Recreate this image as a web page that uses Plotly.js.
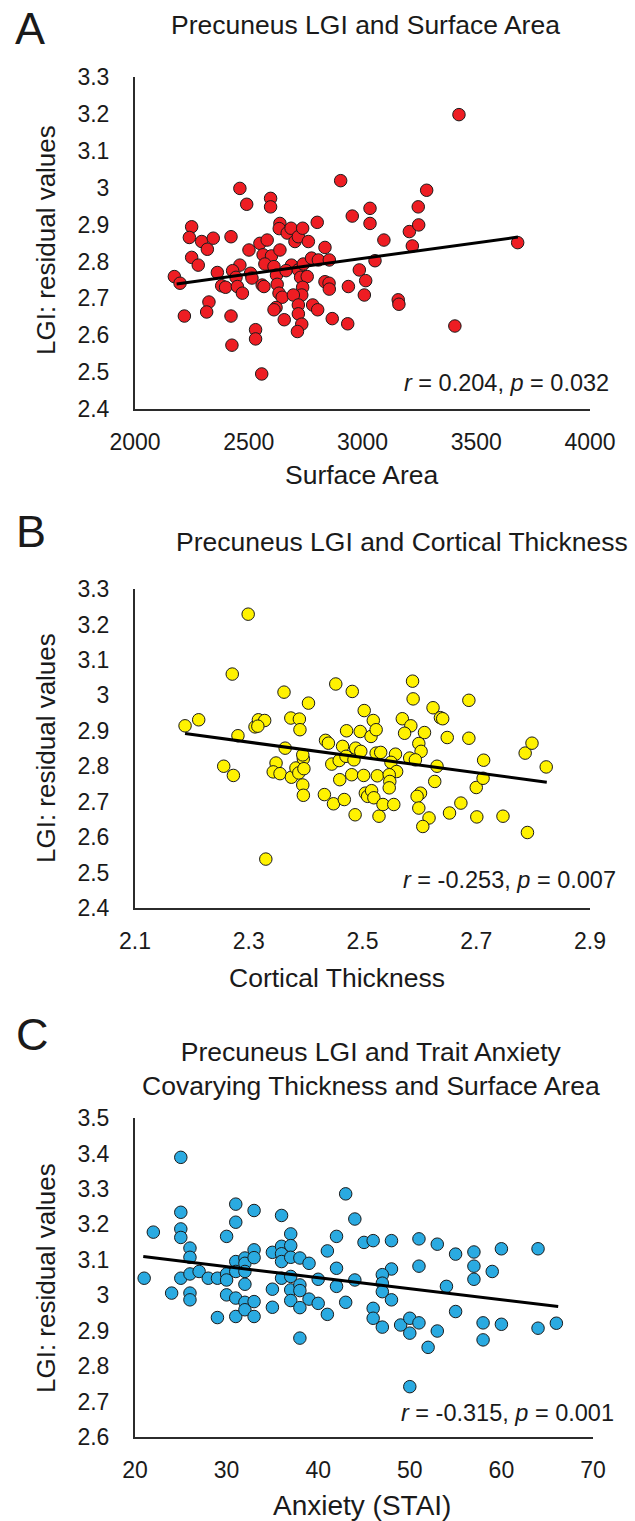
<!DOCTYPE html>
<html>
<head>
<meta charset="utf-8">
<script src="https://cdn.plot.ly/plotly-3.0.1.min.js"></script>
<style>
  html, body { margin: 0; padding: 0; background: #ffffff; }
  #chart { width: 635px; height: 1521px; }
</style>
</head>
<body>
<div id="chart"></div>
<script>
// ---------------- Data ----------------
// Panel A: Surface Area vs LGI residual
const surfaceArea = [2173,2198,2249,2239,2293,2344,2318,2249,2278,2217,2325,2315,2362,2381,2398,2422,2422,2426,2461,2491,2501,2461,2429,2444,2450,2472,2508,2514,2530,2530,2557,2549,2581,2563,2600,2571,2559,2567,2596,2596,2637,2634,2637,2611,2622,2625,2633,2647,2620,2611,2656,2669,2686,2703,2718,2737,2762,2688,2664,2718,2740,2728,2757,2737,2733,2696,2718,2718,2733,2714,2781,2803,2801,2776,2806,2835,2854,2835,2853,2854,2867,2904,2935,2938,2955,2986,3014,3008,3033,3033,3055,3094,3206,3247,3245,3282,3219,3157,3160,3424,3406,3682];
const lgiA = [2.759,2.741,2.894,2.865,2.854,2.863,2.833,2.811,2.790,2.652,2.690,2.663,2.770,2.734,2.730,2.867,2.652,2.573,2.998,2.955,2.831,2.790,2.775,2.757,2.732,2.714,2.768,2.755,2.615,2.590,2.495,2.849,2.858,2.818,2.815,2.793,2.736,2.732,2.971,2.948,2.903,2.889,2.831,2.786,2.763,2.738,2.714,2.703,2.675,2.669,2.642,2.877,2.890,2.854,2.867,2.890,2.854,2.790,2.775,2.777,2.793,2.757,2.759,2.730,2.709,2.709,2.682,2.658,2.630,2.610,2.682,2.669,2.906,2.809,2.804,2.838,2.804,2.745,2.741,2.725,2.645,3.019,2.631,2.732,2.923,2.777,2.748,2.709,2.944,2.903,2.802,2.858,2.881,2.899,2.948,2.993,2.842,2.696,2.684,3.198,2.625,2.851];
const fitAx = [2183, 3683];
const fitAy = [2.739, 2.866];

// Panel B: Cortical Thickness vs LGI residual
const thickness = [2.188,2.212,2.281,2.271,2.299,2.256,2.273,2.330,2.311,2.317,2.328,2.316,2.362,2.374,2.389,2.390,2.405,2.364,2.348,2.343,2.355,2.375,2.383,2.388,2.396,2.395,2.397,2.395,2.396,2.435,2.440,2.433,2.449,2.446,2.459,2.460,2.468,2.453,2.482,2.472,2.465,2.471,2.485,2.488,2.497,2.496,2.503,2.519,2.515,2.524,2.481,2.502,2.487,2.505,2.509,2.516,2.524,2.526,2.529,
  2.588,2.589,2.624,2.637,2.641,2.687,2.570,2.585,2.574,2.609,2.649,2.687,2.599,2.603,2.583,2.593,2.558,2.550,2.532,2.560,2.547,2.548,2.547,2.520,2.536,2.555,2.631,2.627,2.602,2.596,2.599,2.617,2.606,2.653,2.673,2.700,2.712,2.713,2.701,2.747,2.786,2.798,2.823,2.790];
const lgiB = [2.914,2.931,2.886,3.060,3.229,2.800,2.774,2.538,2.911,2.931,2.929,2.913,3.009,2.936,2.933,2.903,2.978,2.851,2.809,2.784,2.779,2.769,2.795,2.781,2.821,2.832,2.793,2.747,2.718,2.873,2.865,2.720,2.694,2.806,2.816,2.762,2.706,3.032,3.011,2.900,2.856,2.828,2.818,2.851,2.842,2.898,2.957,2.929,2.884,2.903,2.776,2.774,2.663,2.724,2.715,2.731,2.837,2.773,2.659,
  3.040,2.990,2.965,2.937,2.934,2.986,2.934,2.914,2.893,2.895,2.881,2.879,2.864,2.842,2.823,2.818,2.834,2.811,2.839,2.785,2.776,2.757,2.739,2.711,2.692,2.692,2.800,2.757,2.724,2.715,2.682,2.654,2.630,2.668,2.696,2.740,2.766,2.817,2.657,2.659,2.837,2.865,2.798,2.613];
const fitBx = [2.188, 2.824];
const fitBy = [2.892, 2.755];

// Panel C: Anxiety (STAI) vs LGI residual
const anxiety = [21,22,24,25,25,25,25,25,26,26,26,26,26,27,28,29,29,30,30,30,30,31,31,31,31,31,31,32,32,32,32,32,32,33,33,33,33,33,35,35,35,36,36,36,36,36,37,37,37,37,37,37,38,38,38,38,38,39,39,40,40,41,41,42,42,42,43,43,44,44,45,46,46,46,
  48,51,53,55,57,60,64,57,57,59,51,48,47,47,47,48,54,55,47,49,50,50,51,53,52,50,58,58,60,64,66];
const lgiC = [3.048,3.178,3.006,3.389,3.234,3.187,3.163,3.048,3.133,3.107,3.060,3.006,2.987,3.067,3.048,3.048,2.937,3.166,3.060,3.043,3.001,3.257,3.206,3.095,3.067,2.992,2.940,3.105,3.090,3.067,3.031,2.980,2.959,3.239,3.128,3.106,2.982,2.940,3.121,3.017,2.966,3.225,3.138,3.117,3.095,3.048,3.173,3.140,3.107,3.053,3.015,2.985,3.105,3.029,3.013,2.965,2.879,3.090,2.989,3.045,2.977,2.946,3.125,3.166,3.076,3.025,3.286,2.980,3.215,3.043,3.149,3.154,2.963,2.935,
  3.154,3.159,3.144,3.116,3.122,3.131,3.131,3.082,3.045,3.067,3.082,3.074,3.058,3.034,3.010,2.987,3.025,2.954,2.910,2.916,2.935,2.893,2.922,2.899,2.853,2.742,2.922,2.874,2.918,2.907,2.921];
const fitCx = [20.9, 66.2];
const fitCy = [3.109, 2.968];

// Tick labels
const xTicksA = [2000, 2500, 3000, 3500, 4000];
const xTicksB = [2.1, 2.3, 2.5, 2.7, 2.9];
const xTickTextB = ['2.1', '2.3', '2.5', '2.7', '2.9'];
const xTicksC = [20, 30, 40, 50, 60, 70];
const yTicksAB = [2.4, 2.5, 2.6, 2.7, 2.8, 2.9, 3.0, 3.1, 3.2, 3.3];
const yTextAB = ['2.4', '2.5', '2.6', '2.7', '2.8', '2.9', '3', '3.1', '3.2', '3.3'];
const yTicksC = [2.6, 2.7, 2.8, 2.9, 3.0, 3.1, 3.2, 3.3, 3.4, 3.5];
const yTextC = ['2.6', '2.7', '2.8', '2.9', '3', '3.1', '3.2', '3.3', '3.4', '3.5'];

const titles = ['Precuneus LGI and Surface Area', 'Precuneus LGI and Cortical Thickness',
  'Precuneus LGI and Trait Anxiety<br>Covarying Thickness and Surface Area'];
const xTitles = ['Surface Area', 'Cortical Thickness', 'Anxiety (STAI)'];
const yTitle = 'LGI: residual values';
const stats = ['<i>r</i> = 0.204, <i>p</i> = 0.032', '<i>r</i> = -0.253, <i>p</i> = 0.007', '<i>r</i> = -0.315, <i>p</i> = 0.001'];
const letters = ['A', 'B', 'C'];

// ---------------- Layout helpers ----------------
const W = 635, H = 1521;
const fx = p => p / W;
const fy = p => 1 - p / H;
const FONT = '"Liberation Sans", Arial, Helvetica, sans-serif';
const TXT = '#1a1a1a';
const AX = '#2b2b2b';

function mk(x, y, color, xa, ya) {
  return { x: x, y: y, type: 'scatter', mode: 'markers', xaxis: xa, yaxis: ya,
    marker: { size: 12.5, color: color, line: { color: '#1a1a1a', width: 1 } }, hoverinfo: 'skip' };
}
function fit(x, y, xa, ya) {
  return { x: x, y: y, type: 'scatter', mode: 'lines', xaxis: xa, yaxis: ya,
    line: { color: '#000000', width: 3 }, hoverinfo: 'skip' };
}

const data = [
  mk(surfaceArea, lgiA, '#EE1D23', 'x', 'y'), fit(fitAx, fitAy, 'x', 'y'),
  mk(thickness, lgiB, '#FFF200', 'x2', 'y2'), fit(fitBx, fitBy, 'x2', 'y2'),
  mk(anxiety, lgiC, '#2AAAE1', 'x3', 'y3'), fit(fitCx, fitCy, 'x3', 'y3')
];

function xax(dom, range, vals, text, anchor) {
  const a = { domain: dom, range: range, tickvals: vals, anchor: anchor, showline: true, linecolor: AX, linewidth: 2,
    showgrid: false, zeroline: false, ticks: '', ticklabelstandoff: 11, tickfont: { family: FONT, size: 23, color: TXT }, fixedrange: true };
  if (text) a.ticktext = text;
  return a;
}
function yax(dom, range, vals, text, anchor) {
  return { domain: dom, range: range, tickvals: vals, ticktext: text, anchor: anchor, showline: true, linecolor: AX, linewidth: 2,
    showgrid: false, zeroline: false, ticks: '', ticklabelstandoff: 19, tickfont: { family: FONT, size: 23, color: TXT }, fixedrange: true };
}

function ann(text, xp, yp, size, opts) {
  return Object.assign({ text: text, xref: 'paper', yref: 'paper', x: fx(xp), y: fy(yp), xanchor: 'center', yanchor: 'middle',
    showarrow: false, font: { family: FONT, size: size, color: TXT } }, opts || {});
}

const layout = {
  width: W, height: H, margin: { l: 0, r: 0, t: 0, b: 0 }, paper_bgcolor: '#ffffff', plot_bgcolor: '#ffffff',
  showlegend: false,
  xaxis: xax([fx(135), fx(590)], [2000, 4000], xTicksA, null, 'y'),
  yaxis: yax([fy(409), fy(77)], [2.4, 3.3], yTicksAB, yTextAB, 'x'),
  xaxis2: xax([fx(135), fx(590)], [2.1, 2.9], xTicksB, xTickTextB, 'y2'),
  yaxis2: yax([fy(908), fy(589)], [2.4, 3.3], yTicksAB, yTextAB, 'x2'),
  xaxis3: xax([fx(135), fx(593)], [20, 70], xTicksC, null, 'y3'),
  yaxis3: yax([fy(1437), fy(1118)], [2.6, 3.5], yTicksC, yTextC, 'x3'),
  annotations: [
    ann(letters[0], 30, 28, 45), ann(letters[1], 31, 532, 45), ann(letters[2], 32, 1034, 45),
    ann(titles[0], 365, 25, 26.5), ann(titles[1], 402, 542, 26.5), ann(titles[2], 371, 1069, 26.5),
    ann(yTitle, 46, 240, 26, { textangle: -90 }), ann(yTitle, 46, 748, 26, { textangle: -90 }), ann(yTitle, 46, 1278, 26, { textangle: -90 }),
    ann(xTitles[0], 361, 475, 26.5), ann(xTitles[1], 337, 978, 26.5), ann(xTitles[2], 362, 1505, 28),
    ann(stats[0], 611, 383, 23.5, { xanchor: 'right' }), ann(stats[1], 618, 880, 23.5, { xanchor: 'right' }), ann(stats[2], 616, 1413, 23.5, { xanchor: 'right' })
  ]
};

Plotly.newPlot('chart', data, layout, { displayModeBar: false, staticPlot: true });
</script>
</body>
</html>
